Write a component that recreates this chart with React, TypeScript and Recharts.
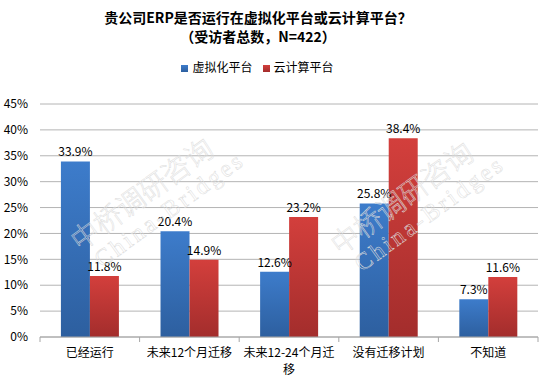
import { Bar, BarChart, CartesianGrid, LabelList, Legend, XAxis, YAxis } from "recharts";

const categories = ["已经运行", "未来12个月迁移", "未来12-24个月迁\n移", "没有迁移计划", "不知道"];
const virtualized = [33.9, 20.4, 12.6, 25.8, 7.3];
const cloud = [11.8, 14.9, 23.2, 38.4, 11.6];
const yTicks = [0, 5, 10, 15, 20, 25, 30, 35, 40, 45];
const seriesNames = ["虚拟化平台", "云计算平台"];

const data = categories.map((name, i) => ({
  name,
  s1: virtualized[i],
  s2: cloud[i],
}));

const font = '"Noto Sans CJK SC", "Noto Sans", sans-serif';

function CategoryTick(props: any) {
  const { x, y, payload, width, visibleTicksCount, index } = props;
  const band = width / visibleTicksCount;
  const axisY = y - 8;
  const lines = String(payload.value).split("\n");
  return (
    <g>
      <line x1={x - band / 2} x2={x - band / 2} y1={axisY} y2={axisY + 5} stroke="#a6a6a6" />
      {index === visibleTicksCount - 1 && (
        <line x1={x + band / 2} x2={x + band / 2} y1={axisY} y2={axisY + 5} stroke="#a6a6a6" />
      )}
      {lines.map((l, i) => (
        <text key={i} x={x} y={axisY + 20 + i * 17} textAnchor="middle" fontSize={12} fill="#000">
          {l}
        </text>
      ))}
    </g>
  );
}

function Watermark({ x, y }: { x: number; y: number }) {
  return (
    <g transform={`translate(${x},${y}) rotate(-36)`} fill="none" stroke="#dcdcdc" strokeWidth={0.5}>
      <text x={0} y={0} fontSize={28} fontFamily='"Noto Sans CJK SC"' fontWeight={300}>
        中桥调研咨询
      </text>
      <text x={8} y={26} fontSize={24} fontFamily='"Liberation Serif"' letterSpacing={3}>
        China-Bridges
      </text>
    </g>
  );
}

export default function App() {
  return (
    <div style={{ position: "absolute", left: 0, top: 0, width: 550, height: 382, background: "#fff", fontFamily: font }}>
      <div style={{ position: "absolute", left: 0, top: 8, width: 516, textAlign: "center", fontSize: 14, fontWeight: 700, lineHeight: "19px", color: "#000" }}>
        贵公司ERP是否运行在虚拟化平台或云计算平台？
        <br />
        （受访者总数，N=422）
      </div>
      <BarChart
        width={550}
        height={382}
        data={data}
        margin={{ top: 87, right: 12, bottom: 0, left: 0 }}
        barCategoryGap="21%"
        barGap={0}
      >
        <defs>
          <linearGradient id="blueFill" x1="0" y1="0" x2="0" y2="1">
            <stop offset="0%" stopColor="#3d7ccb" />
            <stop offset="100%" stopColor="#2d5f9f" />
          </linearGradient>
          <linearGradient id="redFill" x1="0" y1="0" x2="0" y2="1">
            <stop offset="0%" stopColor="#d33f3c" />
            <stop offset="100%" stopColor="#a32d2c" />
          </linearGradient>
        </defs>
        <CartesianGrid vertical={false} stroke="#b4b4b4" />
        <XAxis
          dataKey="name"
          axisLine={{ stroke: "#a6a6a6" }}
          tickLine={false}
          tick={<CategoryTick />}
          interval={0}
          height={45}
          tickSize={6}
          tickMargin={2}
        />
        <YAxis
          width={40}
          domain={[0, 45]}
          ticks={yTicks}
          axisLine={false}
          tickLine={false}
          tickSize={6}
          tickMargin={6}
          tickFormatter={(v: number) => `${v}%`}
          tick={{ fontSize: 12, fill: "#000" }}
        />
        <Legend
          verticalAlign="top"
          iconType="square"
          iconSize={7}
          itemSorter="dataKey"
          wrapperStyle={{ top: 58, left: 0, width: 525, fontSize: 12, color: "#000" }}
          formatter={(v) => <span style={{ color: "#000" }}>{v}</span>}
        />
        <Bar dataKey="s1" name={seriesNames[0]} fill="url(#blueFill)" legendType="square" isAnimationActive={false}>
          <LabelList dataKey="s1" position="top" offset={5} fontSize={12} fill="#000" formatter={(v: any) => `${Number(v).toFixed(1)}%`} />
        </Bar>
        <Bar dataKey="s2" name={seriesNames[1]} fill="url(#redFill)" legendType="square" isAnimationActive={false}>
          <LabelList dataKey="s2" position="top" offset={5} fontSize={12} fill="#000" formatter={(v: any) => `${Number(v).toFixed(1)}%`} />
        </Bar>
      </BarChart>
      <svg width={550} height={382} style={{ position: "absolute", left: 0, top: 0, pointerEvents: "none" }}>
        <Watermark x={80} y={252} />
        <Watermark x={340} y={256} />
      </svg>
    </div>
  );
}
